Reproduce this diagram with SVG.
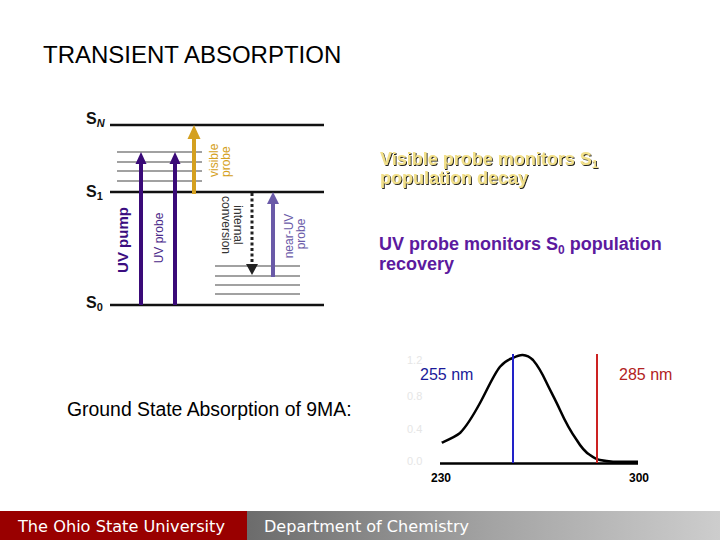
<svg xmlns="http://www.w3.org/2000/svg" width="720" height="540" viewBox="0 0 720 540">
<defs>
<style>
.sans{font-family:"Liberation Sans",Arial,sans-serif}
.lvl{stroke:#111;stroke-width:2.5}
.vib{stroke:#444;stroke-width:1.2}
.lab{font-family:"Liberation Sans",Arial,sans-serif;font-size:12px}
.lvlt{font-family:"Liberation Sans",Arial,sans-serif;font-weight:bold;font-size:16px;fill:#111}
.sub{font-size:11px}
.vis{font-family:"Liberation Sans",Arial,sans-serif;font-weight:bold;font-size:18px}
.foot{font-family:"DejaVu Sans Condensed","DejaVu Sans",sans-serif;font-size:16px;fill:#fff}
.tick{font-family:"Liberation Sans",Arial,sans-serif;font-size:11px;fill:#e6e6e6}
</style>
<filter id="shadow" x="-5%" y="-20%" width="110%" height="150%">
<feOffset in="SourceAlpha" dx="1.2" dy="1.2" result="off"/>
<feFlood flood-color="#222"/>
<feComposite in2="off" operator="in" result="sh"/>
<feMerge><feMergeNode in="sh"/><feMergeNode in="SourceGraphic"/></feMerge>
</filter>
<linearGradient id="gbar" x1="0" y1="0" x2="1" y2="0">
<stop offset="0" stop-color="#6c6c6c"/>
<stop offset="0.5" stop-color="#a2a2a2"/>
<stop offset="1" stop-color="#cdcdcd"/>
</linearGradient>
</defs>
<rect width="720" height="540" fill="#fff"/>

<text id="title" class="sans" x="43" y="63" font-size="24" fill="#000">TRANSIENT ABSORPTION</text>

<g id="levels">
<line class="lvl" x1="110" y1="125" x2="324" y2="125"/>
<line class="lvl" x1="110" y1="192" x2="324" y2="192"/>
<line class="lvl" x1="110" y1="305" x2="324" y2="305"/>
<line class="vib" x1="117" y1="152" x2="202" y2="152"/>
<line class="vib" x1="117" y1="162" x2="202" y2="162"/>
<line class="vib" x1="117" y1="171" x2="202" y2="171"/>
<line class="vib" x1="117" y1="181" x2="202" y2="181"/>
<line class="vib" x1="215" y1="266" x2="300" y2="266"/>
<line class="vib" x1="215" y1="276" x2="300" y2="276"/>
<line class="vib" x1="215" y1="285" x2="300" y2="285"/>
<line class="vib" x1="215" y1="294" x2="300" y2="294"/>
<text class="lvlt" x="86" y="124">S<tspan class="sub" font-style="italic" dy="3">N</tspan></text>
<text class="lvlt" x="86" y="197">S<tspan class="sub" dy="3">1</tspan></text>
<text class="lvlt" x="86" y="308">S<tspan class="sub" dy="3">0</tspan></text>
</g>

<g id="connectors">
<line x1="141" y1="305" x2="141" y2="162" stroke="#3a0a78" stroke-width="4"/>
<polygon points="141,152 135.5,164 146.5,164" fill="#3a0a78"/>
<line x1="175" y1="305" x2="175" y2="162" stroke="#3a0a78" stroke-width="4"/>
<polygon points="175,152 169.5,164 180.5,164" fill="#3a0a78"/>
<line x1="194" y1="194" x2="194" y2="136" stroke="#d4a020" stroke-width="4"/>
<polygon points="194,125 187.5,139 200.5,139" fill="#d4a020"/>
<line x1="252" y1="193" x2="252" y2="266" stroke="#222" stroke-width="3" stroke-dasharray="3,2.5"/>
<polygon points="252,275 246,264 258,264" fill="#222"/>
<line x1="273" y1="277" x2="273" y2="202" stroke="#6a5aa8" stroke-width="4"/>
<polygon points="273,192 267,204 279,204" fill="#6a5aa8"/>
</g>

<g id="arrow-labels">
<text class="sans" font-weight="bold" font-size="15" fill="#3b0d80" text-anchor="middle" transform="translate(128,240) rotate(-90)">UV pump</text>
<text class="lab" fill="#4b2a8a" text-anchor="middle" transform="translate(163,238) rotate(-90)">UV probe</text>
<text class="lab" fill="#d4a020" transform="translate(218,177) rotate(-90)">visible</text>
<text class="lab" fill="#d4a020" transform="translate(230,177) rotate(-90)">probe</text>
<text class="lab" fill="#333" text-anchor="middle" transform="translate(233.5,225) rotate(90)">internal</text>
<text class="lab" fill="#333" text-anchor="middle" transform="translate(222,225) rotate(90)">conversion</text>
<text class="lab" fill="#6a5aa8" text-anchor="middle" transform="translate(293,236) rotate(-90)">near-UV</text>
<text class="lab" fill="#6a5aa8" text-anchor="middle" transform="translate(305,234) rotate(-90)">probe</text>
</g>

<g id="visible-note" fill="#f2e08a" filter="url(#shadow)">
<text class="vis" x="380" y="165">Visible probe monitors S<tspan font-size="11" dy="3">1</tspan></text>
<text class="vis" x="380" y="184">population decay</text>
</g>

<g id="uv-note" fill="#5c1a9e">
<text class="vis" x="379" y="250">UV probe monitors S<tspan font-size="12" dy="4">0</tspan><tspan dy="-4"> population</tspan></text>
<text class="vis" x="379" y="270">recovery</text>
</g>

<text id="gs-label" class="sans" x="67" y="416" font-size="19.4" fill="#000">Ground State Absorption of 9MA:</text>

<g id="spectrum">
<text class="tick" x="407" y="364">1.2</text>
<text class="tick" x="407" y="400">0.8</text>
<text class="tick" x="407" y="433">0.4</text>
<text class="tick" x="407" y="465">0.0</text>
<path d="M441.7,442.7 C450,439 455,437 460,433 C468,425 474,414 480,403 C487,390 494,374 500,366.7 C505,361 509,359 513,358 C517,356 520,354.8 522.7,355 C527,355.3 530,357 533,360 C539,367 543,375 546.7,383 C551,392 556,401 560,410 C565,421 571,432 576.7,440 C581,447 585,452 590,455 C594,458 597,459.5 600,460 C605,461 609,461.5 613,461.7 L638,461.7" fill="none" stroke="#000" stroke-width="2.5"/>
<line x1="440" y1="463.5" x2="638" y2="463.5" stroke="#000" stroke-width="2.5"/>
<line x1="513" y1="354" x2="513" y2="463" stroke="#2222c8" stroke-width="2"/>
<line x1="597" y1="354" x2="597" y2="463" stroke="#cc2222" stroke-width="2"/>
<text class="sans" x="441" y="482" font-size="12" font-weight="bold" text-anchor="middle" fill="#000">230</text>
<text class="sans" x="639" y="482" font-size="12" font-weight="bold" text-anchor="middle" fill="#000">300</text>
<text class="sans" x="420" y="380" font-size="16" fill="#1a1a99">255 nm</text>
<text class="sans" x="619" y="380" font-size="16" fill="#b22222">285 nm</text>
</g>

<g id="footer">
<rect x="0" y="511" width="247" height="29" fill="#990000"/>
<rect x="247" y="511" width="473" height="29" fill="url(#gbar)"/>
<text class="foot" x="18" y="532" textLength="207" lengthAdjust="spacingAndGlyphs">The Ohio State University</text>
<text class="foot" x="264" y="532" textLength="205" lengthAdjust="spacingAndGlyphs">Department of Chemistry</text>
</g>
</svg>
